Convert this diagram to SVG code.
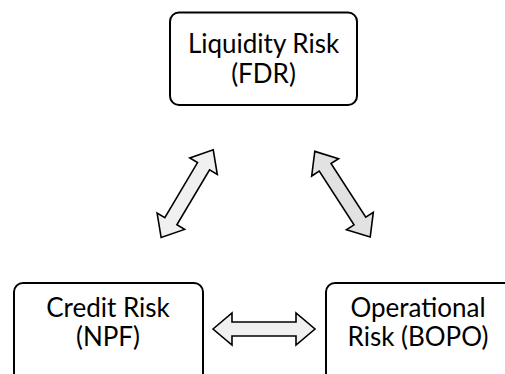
<svg xmlns="http://www.w3.org/2000/svg" width="505" height="374" viewBox="0 0 505 374">
<style>
.box{fill:#fff;stroke:#000;stroke-width:2}
.lbl{font-family:Lato,"Liberation Sans",sans-serif;font-size:26px;fill:#000;text-anchor:middle}
.arr{stroke:#000;stroke-width:1.6;stroke-linejoin:miter}
</style>
<defs>
<path id="dbl" d="M-51,0 L-32,-16 L-32,-7 L32,-7 L32,-16 L51,0 L32,16 L32,7 L-32,7 L-32,16 Z"/>
</defs>
<rect width="505" height="374" fill="#fff"/>
<g id="liquidity">
<rect class="box" x="170" y="12.5" width="187" height="92.5" rx="9"/>
<text class="lbl" x="263.5" y="53">Liquidity Risk</text>
<text class="lbl" x="263.5" y="83">(FDR)</text>
</g>
<g id="credit">
<rect class="box" x="14" y="283" width="189" height="100" rx="9"/>
<text class="lbl" x="108" y="317">Credit Risk</text>
<text class="lbl" x="108" y="346">(NPF)</text>
</g>
<g id="operational">
<rect class="box" x="326" y="283" width="189" height="100" rx="9"/>
<text class="lbl" x="418" y="317">Operational</text>
<text class="lbl" x="418" y="346">Risk (BOPO)</text>
</g>
<g id="connectors">
<use href="#dbl" class="arr" fill="#f0f0f0" transform="translate(264,329)"/>
<use href="#dbl" class="arr" fill="#f0f0f0" transform="translate(187.2,193.7) rotate(-59.3)"/>
<use href="#dbl" class="arr" fill="#e2e2e2" transform="translate(342.5,194.2) rotate(57.1)"/>
</g>
</svg>
